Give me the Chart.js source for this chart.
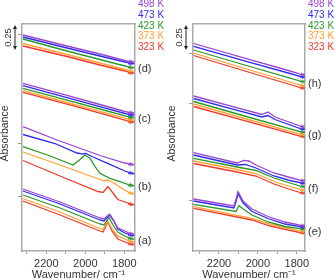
<!DOCTYPE html>
<html>
<head>
<meta charset="utf-8">
<script src="https://cdn.jsdelivr.net/npm/chart.js"></script>
<style>
  html, body { margin: 0; padding: 0; background: #fff; overflow: hidden; }
  #wrap { position: relative; width: 334px; height: 280px; }
  .box { position: absolute; top: 0; width: 167px; height: 280px; }
</style>
</head>
<body>
<div id="wrap">
  <div class="box" style="left:0"><canvas id="left" width="167" height="280"></canvas></div>
  <div class="box" style="left:167px"><canvas id="right" width="167" height="280"></canvas></div>
</div>
<script>
const temps = ['498 K', '473 K', '423 K', '373 K', '323 K'];
const colors = ['#9a45d2', '#2b2bef', '#2a982a', '#ffa22e', '#f2382a'];

// [wavenumber, absorbance (offset)]
// left panel
const d498 = [[2320,2.16],[2094,2.05],[1925,1.97],[1797,1.905],[1781,1.9],[1776,1.885],[1771,1.905],[1766,1.88],[1761,1.9],[1756,1.885],[1750,1.895]];
const d473 = [[2320,2.14],[2094,2.03],[1925,1.95],[1797,1.89],[1781,1.885],[1776,1.87],[1771,1.89],[1766,1.865],[1761,1.885],[1756,1.87],[1750,1.88]];
const d423 = [[2320,2.12],[2094,2.0],[1925,1.915],[1797,1.85],[1781,1.845],[1776,1.83],[1771,1.85],[1766,1.825],[1761,1.84],[1756,1.83],[1750,1.84]];
const d373 = [[2320,2.075],[2094,1.965],[1925,1.88],[1797,1.815],[1781,1.81],[1776,1.795],[1771,1.81],[1766,1.79],[1761,1.805],[1756,1.795],[1750,1.8]];
const d323 = [[2320,2.05],[2094,1.945],[1925,1.86],[1797,1.8],[1781,1.79],[1776,1.775],[1771,1.795],[1766,1.77],[1761,1.79],[1756,1.775],[1750,1.785]];

const c498 = [[2320,1.677],[2094,1.556],[1925,1.465],[1797,1.395],[1781,1.39],[1776,1.375],[1771,1.395],[1766,1.37],[1761,1.39],[1756,1.375],[1750,1.385]];
const c473 = [[2320,1.653],[2094,1.533],[1925,1.444],[1797,1.375],[1781,1.37],[1776,1.355],[1771,1.375],[1766,1.35],[1761,1.37],[1756,1.355],[1750,1.365]];
const c423 = [[2320,1.627],[2094,1.509],[1925,1.42],[1797,1.351],[1781,1.345],[1776,1.33],[1771,1.35],[1766,1.325],[1761,1.345],[1756,1.33],[1750,1.34]];
const c373 = [[2320,1.603],[2094,1.485],[1925,1.396],[1797,1.328],[1781,1.32],[1776,1.305],[1771,1.325],[1766,1.3],[1761,1.32],[1756,1.305],[1750,1.315]];
const c323 = [[2320,1.587],[2094,1.468],[1925,1.379],[1797,1.309],[1781,1.3],[1776,1.285],[1771,1.305],[1766,1.28],[1761,1.3],[1756,1.285],[1750,1.295]];

const b498 = [[2320,1.243],[2145,1.11],[1925,0.955],[1797,0.88],[1781,0.875],[1776,0.86],[1771,0.88],[1766,0.855],[1761,0.875],[1756,0.86],[1750,0.87]];
const b473 = [[2320,1.165],[2156,1.075],[2043,0.98],[2017,0.972],[1997,0.975],[1966,0.945],[1874,0.867],[1797,0.8],[1781,0.79],[1776,0.775],[1771,0.79],[1766,0.77],[1761,0.785],[1756,0.77],[1750,0.78]];
const b423 = [[2320,1.043],[2180,0.95],[2063,0.86],[2027,0.915],[2002,0.96],[1976,0.927],[1950,0.843],[1925,0.777],[1874,0.727],[1822,0.693],[1781,0.665],[1776,0.65],[1771,0.67],[1766,0.645],[1761,0.665],[1756,0.65],[1750,0.66]];
const b373 = [[2320,0.99],[2130,0.86],[1925,0.715],[1904,0.7],[1884,0.71],[1858,0.685],[1822,0.64],[1781,0.59],[1776,0.575],[1771,0.59],[1766,0.57],[1761,0.585],[1756,0.57],[1750,0.58]];
const b323 = [[2320,0.905],[2130,0.75],[1935,0.595],[1909,0.585],[1884,0.645],[1858,0.58],[1833,0.515],[1797,0.49],[1781,0.48],[1776,0.465],[1771,0.48],[1766,0.455],[1761,0.475],[1756,0.46],[1750,0.47]];

const a498 = [[2320,0.62],[2130,0.49],[1925,0.33],[1904,0.32],[1879,0.365],[1858,0.31],[1833,0.23],[1797,0.2],[1781,0.185],[1776,0.17],[1771,0.185],[1766,0.165],[1761,0.18],[1756,0.165],[1750,0.175]];
const a473 = [[2320,0.6],[2130,0.47],[1925,0.31],[1904,0.3],[1874,0.365],[1853,0.3],[1833,0.22],[1797,0.18],[1781,0.17],[1776,0.155],[1771,0.17],[1766,0.15],[1761,0.165],[1756,0.15],[1750,0.16]];
const a423 = [[2320,0.56],[2130,0.43],[1925,0.27],[1904,0.26],[1879,0.335],[1858,0.26],[1833,0.19],[1797,0.15],[1781,0.135],[1776,0.12],[1771,0.135],[1766,0.115],[1761,0.13],[1756,0.115],[1750,0.125]];
const a373 = [[2320,0.525],[2130,0.39],[1925,0.225],[1909,0.215],[1884,0.3],[1863,0.22],[1833,0.15],[1797,0.12],[1781,0.105],[1776,0.09],[1771,0.105],[1766,0.085],[1761,0.1],[1756,0.085],[1750,0.095]];
const a323 = [[2320,0.5],[2130,0.36],[1925,0.2],[1909,0.19],[1884,0.29],[1863,0.2],[1833,0.12],[1797,0.09],[1781,0.08],[1776,0.065],[1771,0.08],[1766,0.06],[1761,0.075],[1756,0.06],[1750,0.07]];

// right panel
const h498 = [[2330,2.075],[2041,1.913],[1835,1.8],[1784,1.77],[1779,1.76],[1774,1.775],[1769,1.755],[1764,1.77],[1760,1.76]];
const h473 = [[2330,2.047],[2041,1.887],[1835,1.775],[1784,1.747],[1779,1.735],[1774,1.75],[1769,1.73],[1764,1.745],[1760,1.735]];
const h423 = [[2330,2.01],[2041,1.845],[1835,1.729],[1784,1.7],[1779,1.69],[1774,1.705],[1769,1.685],[1764,1.7],[1760,1.69]];
const h373 = [[2330,1.98],[2041,1.81],[1835,1.69],[1784,1.66],[1779,1.65],[1774,1.665],[1769,1.645],[1764,1.66],[1760,1.65]];
const h323 = [[2330,1.955],[2041,1.785],[1835,1.665],[1784,1.635],[1779,1.625],[1774,1.64],[1769,1.62],[1764,1.635],[1760,1.625]];

const g498 = [[2330,1.55],[2143,1.451],[1979,1.365],[1948,1.39],[1912,1.34],[1784,1.25],[1779,1.24],[1774,1.255],[1769,1.235],[1764,1.25],[1760,1.24]];
const g473 = [[2330,1.525],[2143,1.426],[1979,1.34],[1948,1.355],[1912,1.315],[1784,1.225],[1779,1.215],[1774,1.23],[1769,1.21],[1764,1.225],[1760,1.215]];
const g423 = [[2330,1.495],[2041,1.335],[1784,1.195],[1779,1.185],[1774,1.2],[1769,1.18],[1764,1.195],[1760,1.185]];
const g373 = [[2330,1.47],[2041,1.31],[1784,1.17],[1779,1.16],[1774,1.175],[1769,1.155],[1764,1.17],[1760,1.16]];
const g323 = [[2330,1.445],[2041,1.288],[1784,1.15],[1779,1.14],[1774,1.155],[1769,1.135],[1764,1.15],[1760,1.14]];

const f498 = [[2330,0.983],[2107,0.88],[2071,0.907],[2046,0.9],[2010,0.86],[1917,0.78],[1835,0.735],[1784,0.71],[1779,0.7],[1774,0.715],[1769,0.695],[1764,0.71],[1760,0.7]];
const f473 = [[2330,0.96],[2107,0.86],[2066,0.865],[2010,0.83],[1917,0.75],[1835,0.705],[1784,0.683],[1779,0.673],[1774,0.688],[1769,0.668],[1764,0.683],[1760,0.673]];
const f423 = [[2330,0.927],[2107,0.84],[2010,0.805],[1917,0.73],[1835,0.68],[1784,0.65],[1779,0.64],[1774,0.655],[1769,0.635],[1764,0.65],[1760,0.64]];
const f373 = [[2330,0.9],[2107,0.815],[2010,0.775],[1917,0.695],[1835,0.645],[1784,0.615],[1779,0.605],[1774,0.62],[1769,0.6],[1764,0.615],[1760,0.605]];
const f323 = [[2330,0.875],[2107,0.79],[2010,0.75],[1917,0.67],[1835,0.615],[1784,0.585],[1779,0.575],[1774,0.59],[1769,0.57],[1764,0.585],[1760,0.575]];

const e498 = [[2330,0.52],[2123,0.45],[2110,0.53],[2102,0.595],[2092,0.56],[2076,0.5],[2030,0.42],[1948,0.345],[1861,0.29],[1784,0.26],[1779,0.25],[1774,0.265],[1769,0.245],[1764,0.26],[1760,0.25]];
const e473 = [[2330,0.5],[2123,0.43],[2110,0.505],[2102,0.575],[2092,0.54],[2076,0.48],[2030,0.395],[1948,0.325],[1861,0.27],[1784,0.245],[1779,0.235],[1774,0.25],[1769,0.23],[1764,0.245],[1760,0.235]];
const e423 = [[2330,0.467],[2112,0.395],[2097,0.455],[2082,0.43],[2030,0.36],[1948,0.29],[1861,0.245],[1784,0.225],[1779,0.215],[1774,0.23],[1769,0.21],[1764,0.225],[1760,0.215]];
const e373 = [[2330,0.443],[2030,0.327],[1938,0.27],[1784,0.2],[1779,0.19],[1774,0.205],[1769,0.185],[1764,0.2],[1760,0.19]];
const e323 = [[2330,0.427],[2030,0.31],[1938,0.25],[1784,0.185],[1779,0.175],[1774,0.19],[1769,0.17],[1764,0.185],[1760,0.175]];

const leftGroups = [[d498,d473,d423,d373,d323],[c498,c473,c423,c373,c323],[b498,b473,b423,b373,b323],[a498,a473,a423,a373,a323]];
const leftNames = ['(d)','(c)','(b)','(a)'];
const rightGroups = [[h498,h473,h423,h373,h323],[g498,g473,g423,g373,g323],[f498,f473,f423,f373,f323],[e498,e473,e423,e373,e323]];
const rightNames = ['(h)','(g)','(f)','(e)'];
const yTicksLeft = [2.16, 1.08, 0.54];
const yTicksRight = [1.98, 1.48, 0.51];
const xTicks = [2300, 2200, 2100, 2000, 1900, 1800];
const scaleBar = 0.25;

const FONT = '"Liberation Sans", Arial, sans-serif';
Chart.defaults.font.family = FONT;
Chart.defaults.color = '#333';

const annot = {
  id: 'annot',
  afterDraw(chart, args, o) {
    const { ctx, chartArea: a } = chart;
    const y = chart.scales.y;
    ctx.save();
    ctx.textBaseline = 'middle';
    ctx.textAlign = 'left';
    ctx.font = '10px ' + FONT;
    temps.forEach((t, i) => {
      ctx.fillStyle = colors[i];
      ctx.fillText(t, a.right + 3, 4.5 + i * 10.7);
    });
    ctx.fillStyle = '#333';
    ctx.font = '11px ' + FONT;
    o.groups.forEach((g, i) => {
      const last = g[2][g[2].length - 1];
      ctx.fillText(o.names[i], a.right + 3, y.getPixelForValue(last[1]) + 2);
    });
    // 0.25 scale bar
    const len = y.getPixelForValue(0) - y.getPixelForValue(scaleBar);
    const bx = a.left - 7, y0 = a.top + 1, y1 = y0 + len;
    ctx.strokeStyle = '#222';
    ctx.lineWidth = 1;
    ctx.beginPath();
    ctx.moveTo(bx, y0 + 2); ctx.lineTo(bx, y1 - 2);
    ctx.stroke();
    ctx.fillStyle = '#222';
    ctx.beginPath();
    ctx.moveTo(bx, y0); ctx.lineTo(bx - 2, y0 + 4); ctx.lineTo(bx + 2, y0 + 4); ctx.closePath();
    ctx.moveTo(bx, y1); ctx.lineTo(bx - 2, y1 - 4); ctx.lineTo(bx + 2, y1 - 4); ctx.closePath();
    ctx.fill();
    ctx.save();
    ctx.translate(a.left - 14, (y0 + y1) / 2);
    ctx.rotate(-Math.PI / 2);
    ctx.textAlign = 'center';
    ctx.font = '9.5px ' + FONT;
    ctx.fillStyle = '#333';
    ctx.fillText(String(scaleBar), 0, 0);
    ctx.restore();
    // y title
    ctx.save();
    ctx.translate(o.titleX, (a.top + a.bottom) / 2 - 4);
    ctx.rotate(-Math.PI / 2);
    ctx.textAlign = 'center';
    ctx.font = '10.5px ' + FONT;
    ctx.fillStyle = '#333';
    ctx.fillText('Absorbance', 0, 0);
    ctx.restore();
    ctx.restore();
  }
};

function makeChart(id, groups, names, yTicks, xMin, xMax, pad, titleX) {
  const datasets = [];
  groups.forEach(g => g.forEach((pts, i) => {
    datasets.push({
      label: temps[i],
      data: pts.map(p => ({ x: p[0], y: p[1] })),
      borderColor: colors[i],
      borderWidth: 1.3,
      pointRadius: 0,
      fill: false,
      tension: 0
    });
  }));
  const frame = { color: '#aaaaaa', width: 1.5 };
  return new Chart(document.getElementById(id), {
    type: 'line',
    data: { datasets },
    options: {
      responsive: false,
      animation: false,
      layout: { autoPadding: false, padding: pad },
      scales: {
        x: {
          type: 'linear', position: 'bottom', reverse: true, min: xMin, max: xMax,
          afterBuildTicks: ax => { ax.ticks = xTicks.map(v => ({ value: v })); },
          afterFit: ax => { ax.height = 29; },
          ticks: { callback: v => (v % 200 === 0 ? v : ''), maxRotation: 0, autoSkip: false, padding: 3, font: { size: 11 }, color: '#333' },
          grid: { drawOnChartArea: false, tickLength: 3, color: '#999' },
          border: frame,
          title: { display: true, text: 'Wavenumber/ cm\u207B\u00B9', font: { size: 11 }, color: '#333', padding: { top: 0, bottom: -2 } }
        },
        x2: {
          type: 'linear', axis: 'x', position: 'top', min: xMin, max: xMax,
          afterFit: ax => { ax.height = 0; },
          ticks: { display: false }, grid: { display: false }, border: frame
        },
        y: {
          type: 'linear', position: 'left', min: 0, max: 2.27,
          afterBuildTicks: ax => { ax.ticks = yTicks.map(v => ({ value: v })); },
          afterFit: ax => { ax.width = 4; },
          ticks: { display: false },
          grid: { drawOnChartArea: false, tickLength: 4, color: '#999' },
          border: frame
        },
        y2: {
          type: 'linear', axis: 'y', position: 'right', min: 0, max: 2.27,
          afterFit: ax => { ax.width = 0; },
          ticks: { display: false }, grid: { display: false }, border: frame
        }
      },
      plugins: {
        legend: { display: false },
        tooltip: { enabled: false },
        annot: { groups, names, titleX }
      }
    },
    plugins: [annot]
  });
}

makeChart('left', leftGroups, leftNames, yTicksLeft, 1745, 2325, { left: 18, right: 32, top: 24, bottom: 0 }, 5);
makeChart('right', rightGroups, rightNames, yTicksRight, 1758, 2333, { left: 22, right: 29, top: 24, bottom: 0 }, 5);
</script>
</body>
</html>
